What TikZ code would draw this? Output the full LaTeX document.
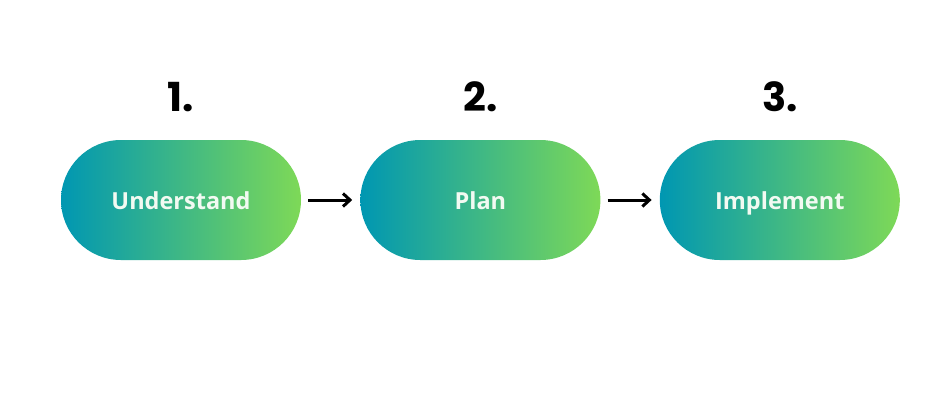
\documentclass[tikz,border=0pt]{standalone}
\usepackage{fontspec}
\setmainfont{Open Sans}
\newfontfamily\numfont{Poppins}
\usetikzlibrary{positioning}
\usetikzlibrary{arrows.meta}
\definecolor{tealblue}{HTML}{0097B2}
\definecolor{limegreen}{HTML}{7ED957}
\definecolor{paletext}{HTML}{F2FAF2}

\begin{document}
\begin{tikzpicture}[x=1pt,y=-1pt,
  pill/.style={rounded corners=60pt, minimum width=240pt, minimum height=120pt,
    left color=tealblue, right color=limegreen, draw=none, text height=22pt, text depth=4pt,
    text=paletext, font=\fontsize{23.5}{26}\selectfont\bfseries},
  num/.style={anchor=base, font=\numfont\fontsize{40}{44}\selectfont\bfseries},
  link/.style={-{Straight Barb[length=7pt,width=13pt,line width=3pt]}, line width=3pt}]
\useasboundingbox (0,0) rectangle (940,400);

\node[pill] (under) at (181,200) {Understand};
\node[pill, right=59pt of under] (plan) {Plan};
\node[pill, right=59pt of plan] (impl) {Implement};

\node[num] at ([yshift=28]under.north) {1.};
\node[num] at ([yshift=28]plan.north) {2.};
\node[num] at ([yshift=28]impl.north) {3.};

\draw[link, shorten <=7pt, shorten >=8pt] (under) -- (plan);
\draw[link, shorten <=7pt, shorten >=8pt] (plan) -- (impl);

\end{tikzpicture}
\end{document}
